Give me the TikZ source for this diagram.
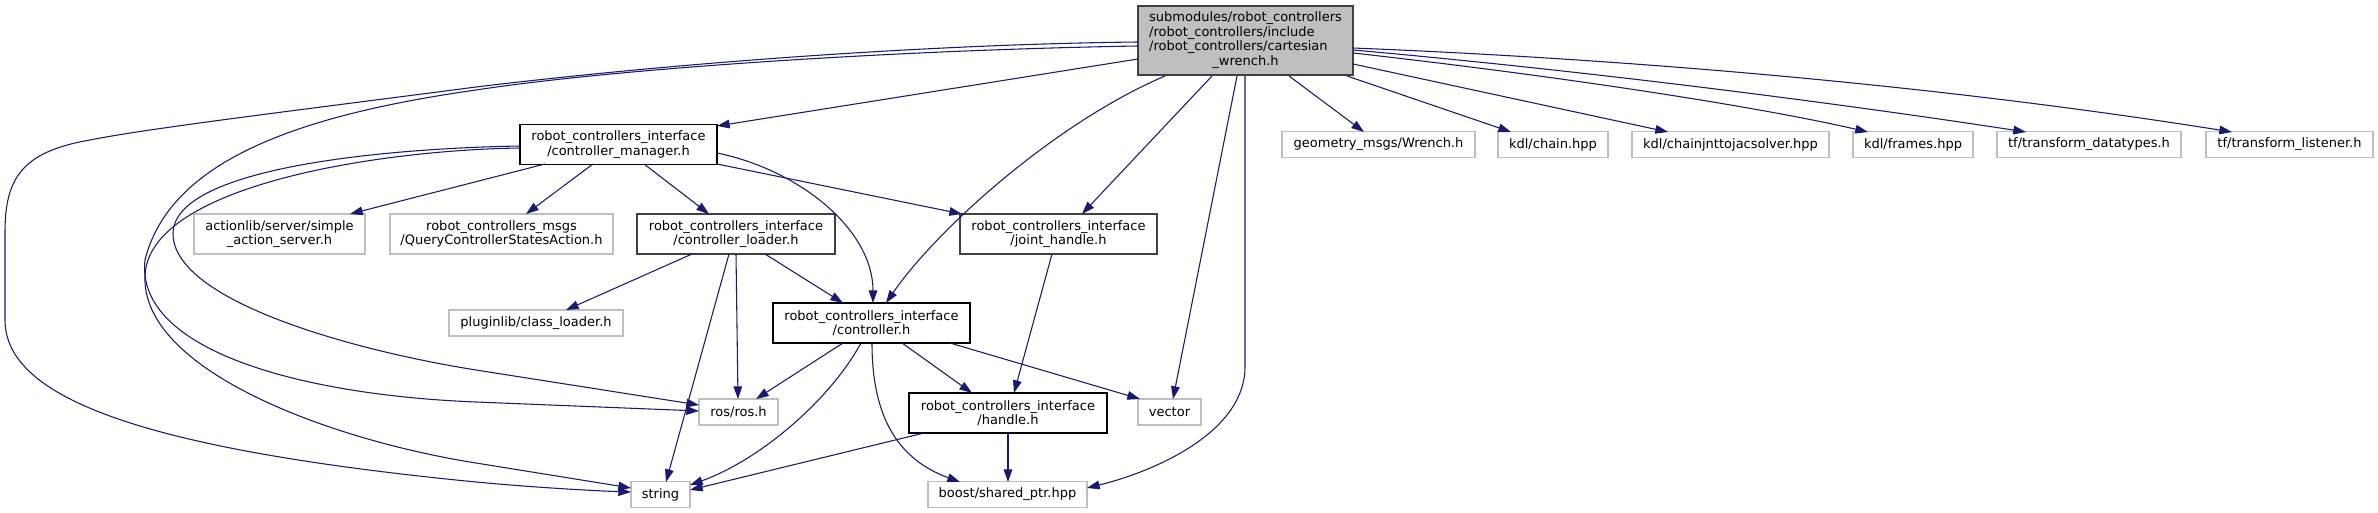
\documentclass[tikz,border=0pt]{standalone}
\usepackage{fontspec}
\setmainfont{DejaVu Sans}
\usetikzlibrary{arrows.meta}
\definecolor{edgec}{HTML}{191970}
\definecolor{extc}{HTML}{BFBFBF}
\definecolor{rootfill}{HTML}{BFBFBF}
\definecolor{darkb}{HTML}{404040}
\tikzset{
 base/.style={draw, rectangle, inner sep=0pt, font=\fontsize{9.75}{10.75}\selectfont, align=center, line width=1pt},
 ext/.style={base, draw=extc, fill=white, minimum height=19.5pt},
 int/.style={base, draw=black, fill=white, minimum height=30pt},
 intd/.style={int, draw=darkb},
 rootbox/.style={base, draw=darkb, fill=rootfill, minimum width=161.25pt, minimum height=51.75pt, font=\fontsize{9.75}{11}\selectfont},
 dep/.style={draw=edgec, line width=0.8pt, -{Triangle[length=9.5pt,width=6.5pt]}},
}
\begin{document}
\begin{tikzpicture}[x=0.75pt,y=-0.75pt]
\useasboundingbox (0,0) rectangle (2378,513);
% nodes
\node[rootbox] (root) at (1245.5,40.5) {\begin{tabular}{@{}l@{}}submodules/robot\_controllers\\/robot\_controllers/include\\/robot\_controllers/cartesian\\\multicolumn{1}{@{}c@{}}{\_wrench.h}\end{tabular}};
\node[int, minimum width=147.75pt] (cm) at (618.5,144.5) {robot\_controllers\_interface\\/controller\_manager.h};
\node[ext, minimum width=128.25pt, minimum height=30pt] (act) at (279.5,234) {actionlib/server/simple\\\_action\_server.h};
\node[ext, minimum width=167.25pt, minimum height=30pt] (qry) at (501.5,234) {robot\_controllers\_msgs\\/QueryControllerStatesAction.h};
\node[intd, minimum width=148.5pt] (cl) at (736,234) {robot\_controllers\_interface\\/controller\_loader.h};
\node[intd, minimum width=147.75pt] (jh) at (1058.5,234) {robot\_controllers\_interface\\/joint\_handle.h};
\node[ext, minimum width=130.5pt] (plg) at (536,323) {pluginlib/class\_loader.h};
\node[int, minimum width=147.75pt] (ch) at (871.5,323) {robot\_controllers\_interface\\/controller.h};
\node[ext, minimum width=59.25pt] (ros) at (738.5,412) {ros/ros.h};
\node[ext, minimum width=47.25pt] (vec) at (1169.5,412) {vector};
\node[int, minimum width=148.5pt] (hh) at (1008,413) {robot\_controllers\_interface\\/handle.h};
\node[ext, minimum width=44.25pt] (str) at (660.5,494.5) {string};
\node[ext, minimum width=119.25pt] (bst) at (1007.5,494.5) {boost/shared\_ptr.hpp};
\node[ext, minimum width=144.75pt] (geo) at (1378.5,144.5) {geometry\_msgs/Wrench.h};
\node[ext, minimum width=82.5pt] (kch) at (1553,144.5) {kdl/chain.hpp};
\node[ext, minimum width=147.75pt] (kcj) at (1730.5,144.5) {kdl/chainjnttojacsolver.hpp};
\node[ext, minimum width=90pt] (kfr) at (1913,144.5) {kdl/frames.hpp};
\node[ext, minimum width=138pt] (tfdt) at (2089,144.5) {tf/transform\_datatypes.h};
\node[ext, minimum width=125.25pt] (tfl) at (2289.5,144.5) {tf/transform\_listener.h};
% edges from root
\draw[dep] ([shift={(-107.5,18.5)}]root.center) -- ([shift={(98.5,-18.5)}]cm.center);
\draw[dep] ([shift={(-107.5,1.5)}]root.center) .. controls (950,44) and (700,60) .. (476,87) .. controls (300,110) and (150,128) .. (90,140) .. controls (20,152) and (5,180) .. (5,233) -- (5,320) .. controls (5,400) and (150,450) .. (476,482) .. controls (540,488) and (600,491) .. ([shift={(-29.5,-2.5)}]str.center);
\draw[dep] ([shift={(-107.5,5.5)}]root.center) .. controls (900,50) and (620,68) .. (476,90) .. controls (300,115) and (170,160) .. (145,260) .. controls (135,350) and (300,395) .. (476,402) -- ([shift={(-39.5,-1)}]ros.center);
\draw[dep] ([shift={(-80.5,35.5)}]root.center) .. controls (1055,123) and (937,229) .. ([shift={(14.5,-20)}]ch.center);
\draw[dep] ([shift={(-33.5,35.5)}]root.center) -- ([shift={(23.5,-20)}]jh.center);
\draw[dep] ([shift={(-8.5,35.5)}]root.center) -- ([shift={(3.5,-13)}]vec.center);
\draw[dep] ([shift={(-0.5,35.5)}]root.center) -- (1245,367) .. controls (1245,430) and (1160,470) .. ([shift={(79.5,-6.5)}]bst.center);
\draw[dep] ([shift={(43.5,35.5)}]root.center) -- ([shift={(-14.5,-12.5)}]geo.center);
\draw[dep] ([shift={(101.5,35.5)}]root.center) -- ([shift={(-42,-12.5)}]kch.center);
\draw[dep] ([shift={(107.5,23.5)}]root.center) -- ([shift={(-62.5,-12.5)}]kcj.center);
\draw[dep] ([shift={(107.5,12.5)}]root.center) .. controls (1550,75) and (1750,105) .. ([shift={(-45,-12.5)}]kfr.center);
\draw[dep] ([shift={(107.5,9.5)}]root.center) .. controls (1600,72) and (1850,105) .. ([shift={(-63,-12.5)}]tfdt.center);
\draw[dep] ([shift={(107.5,7.5)}]root.center) .. controls (1700,62) and (2000,95) .. ([shift={(-57.5,-12.5)}]tfl.center);
% edges from controller_manager
\draw[dep] ([shift={(-98.5,1.5)}]cm.center) .. controls (400,148) and (175,165) .. (173,233) .. controls (172,300) and (350,350) .. (476,370) -- ([shift={(-39.5,-7)}]ros.center);
\draw[dep] ([shift={(-98.5,3.5)}]cm.center) .. controls (380,150) and (150,185) .. (145,275) .. controls (140,370) and (330,440) .. (476,463) -- ([shift={(-29.5,-6.5)}]str.center);
\draw[dep] ([shift={(-73.5,19.5)}]cm.center) -- ([shift={(70.5,-20)}]act.center);
\draw[dep] ([shift={(-25.5,19.5)}]cm.center) -- ([shift={(24.5,-20)}]qry.center);
\draw[dep] ([shift={(25.5,19.5)}]cm.center) -- ([shift={(-27,-20)}]cl.center);
\draw[dep] ([shift={(98.5,8.5)}]cm.center) .. controls (800,170) and (873,230) .. ([shift={(1.5,-20)}]ch.center);
\draw[dep] ([shift={(98.5,19.5)}]cm.center) -- ([shift={(-96.5,-20)}]jh.center);
% edges from controller_loader
\draw[dep] ([shift={(-44,20)}]cl.center) -- ([shift={(30,-13)}]plg.center);
\draw[dep] ([shift={(-7,20)}]cl.center) -- ([shift={(5.5,-12.5)}]str.center);
\draw[dep] ([shift={(0,20)}]cl.center) -- ([shift={(-0.5,-13)}]ros.center);
\draw[dep] ([shift={(29,20)}]cl.center) -- ([shift={(-28.5,-20)}]ch.center);
% joint_handle
\draw[dep] ([shift={(-6.5,20)}]jh.center) -- ([shift={(6,-20)}]hh.center);
% controller.h
\draw[dep] ([shift={(-28.5,20)}]ch.center) -- ([shift={(17.5,-13)}]ros.center);
\draw[dep] ([shift={(-10.5,20)}]ch.center) .. controls (830,400) and (760,460) .. ([shift={(29.5,-9.5)}]str.center);
\draw[dep] ([shift={(0.5,20)}]ch.center) .. controls (872,420) and (900,460) .. ([shift={(-47.5,-12.5)}]bst.center);
\draw[dep] ([shift={(30.5,20)}]ch.center) -- ([shift={(-36,-20)}]hh.center);
\draw[dep] ([shift={(78.5,20)}]ch.center) -- ([shift={(-29.5,-13)}]vec.center);
% handle.h
\draw[dep] ([shift={(-84,20)}]hh.center) -- ([shift={(29.5,-4.5)}]str.center);
\draw[dep] ([shift={(0,20)}]hh.center) -- ([shift={(0.5,-12.5)}]bst.center);
\end{tikzpicture}
\end{document}
